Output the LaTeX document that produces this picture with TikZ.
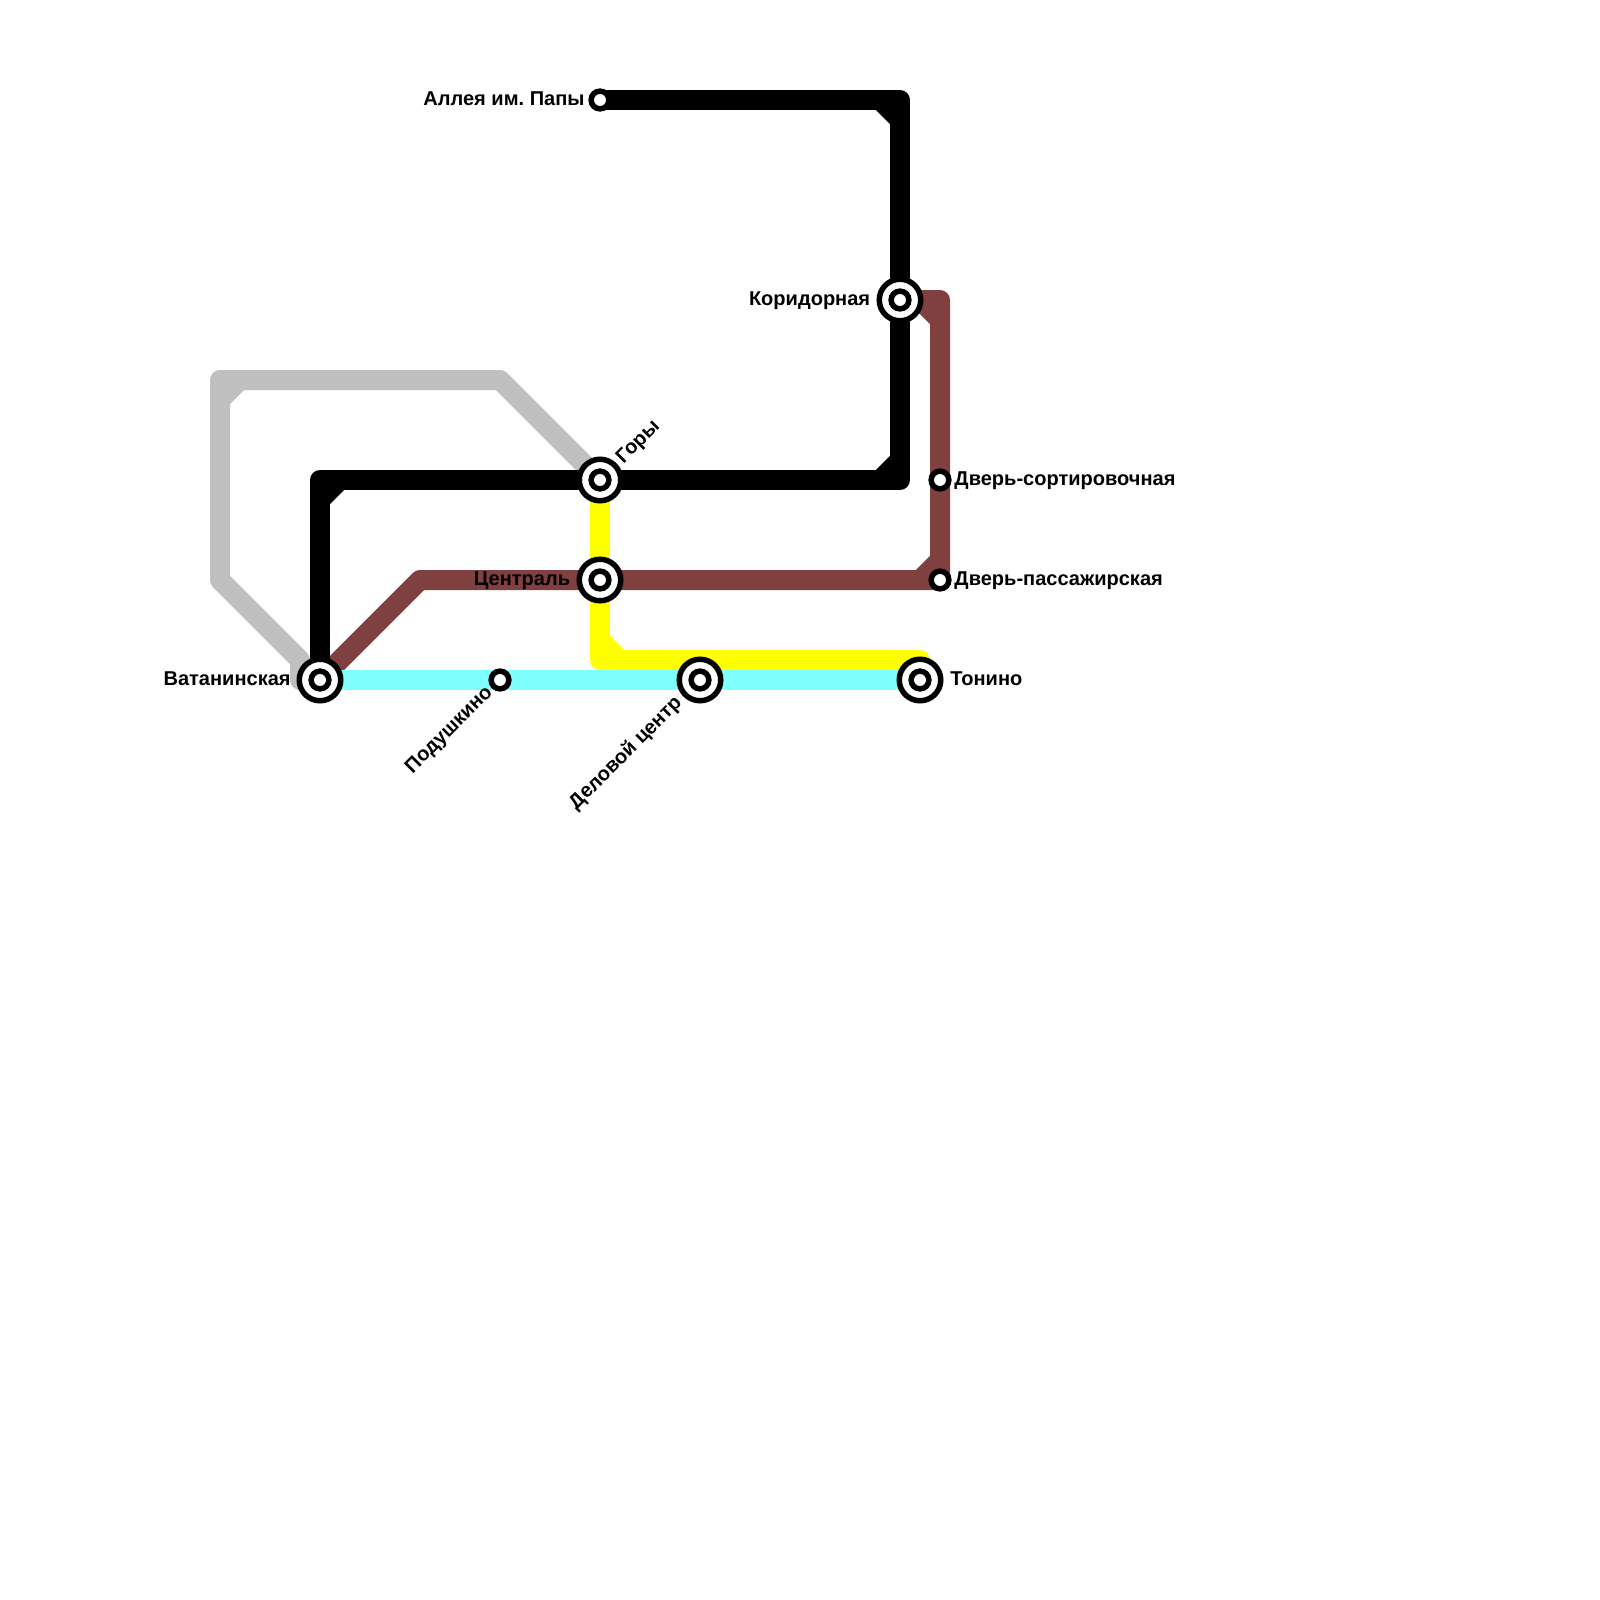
\documentclass[tikz,border=0pt]{standalone}
\usepackage{fontspec}
\setmainfont{Liberation Sans}
\usetikzlibrary{positioning,backgrounds}
\usepackage{xcolor}
\definecolor{greyline}{RGB}{192,192,192}
\definecolor{brownline}{RGB}{128,64,64}
\definecolor{yellowline}{RGB}{255,255,0}
\definecolor{cyanline}{RGB}{128,255,255}
\tikzset{
  metro/.style={line width=0.4cm, line join=round, line cap=round},
  hub/.style={circle, draw=black, fill=white, line width=0.11cm, minimum size=0.83cm, inner sep=0pt},
  stop/.style={circle, draw=black, fill=white, line width=0.11cm, minimum size=0.355cm, inner sep=0pt},
  lbl/.style={font=\fontsize{11.4pt}{13pt}\selectfont\bfseries, inner sep=0pt, text=black}
}

\begin{document}
\begin{tikzpicture}[x=0.4cm, y=-0.4cm]
  \useasboundingbox (0,0) rectangle (80,80);
  % Stations
  \foreach \n/\x/\y in {vatan/16/34, gory/30/24, central/30/29, delovoy/35/34, tonino/46/34, korridor/45/15}{
    \node[hub] (\n) at (\x,\y) {};
    \node[stop] (\n-in) at (\x,\y) {};
  }
  \foreach \n/\x/\y in {papy/30/5, podush/25/34, sort/47/24, pass/47/29}{
    \node[stop] (\n) at (\x,\y) {};
  }
  % Bends
  \coordinate (gtl) at (11,19);
  \coordinate (gtr) at (25,19);
  \coordinate (gbl) at (11,29);
  \coordinate (gdn) at (15,33);
  \coordinate (gft) at (15,34);
  \coordinate (ktr) at (45,5);
  \coordinate (kbr) at (45,24);
  \coordinate (ktl) at (16,24);
  \coordinate (btl) at (21,29);
  \coordinate (btr) at (47,15);
  \coordinate (ybl) at (30,33);
  \coordinate (ybr) at (46,33);
  % Lines
  \begin{scope}[on background layer]
    \draw[metro, greyline] (gory.center) -- (gtr) -- (gtl) -- (gbl) -- (gdn) -- (gft) -- (vatan.center);
    \draw[metro, greyline] (gtl) ++(0,1) -- ++(1,-1);
    \draw[metro, yellowline] (gory.center) -- (ybl) -- (ybr) -- (tonino.center);
    \draw[metro, yellowline] (ybl) ++(0,-1) -- ++(1,1);
    \draw[metro, brownline] (vatan.center) -- (btl) -- (pass.center) -- (btr) -- (korridor.center);
    \draw[metro, brownline] (btr) ++(-1,0) -- ++(1,1);
    \draw[metro, brownline] (pass.center) ++(-1,0) -- ++(1,-1);
    \draw[metro, cyanline] (vatan.center) -- (tonino.center);
    \draw[metro, black] (papy.center) -- (ktr) -- (kbr) -- (ktl) -- (vatan.center);
    \draw[metro, black] (ktr) ++(-1,0) -- ++(1,1);
    \draw[metro, black] (kbr) ++(-1,0) -- ++(1,-1);
    \draw[metro, black] (ktl) ++(0,1) -- ++(1,-1);
  \end{scope}
  % Labels
  \node[lbl, left=0.07cm of papy, yshift=0.02cm] (papy-l) {Аллея им.\ Папы};
  \node[lbl, left=0.12cm of korridor, yshift=-0.02cm] (korridor-l) {Коридорная};
  \node[lbl, left=0.12cm of central, yshift=-0.02cm] (central-l) {Централь};
  \node[lbl, left=0.11cm of vatan, yshift=0.02cm] (vatan-l) {Ватанинская};
  \node[lbl, right=0.05cm of sort, yshift=-0.02cm] (sort-l) {Дверь-сортировочная};
  \node[lbl, right=0.05cm of pass, yshift=-0.02cm] (pass-l) {Дверь-пассажирская};
  \node[lbl, right=0.13cm of tonino, yshift=0.02cm] (tonino-l) {Тонино};
  \node[lbl, rotate=45, anchor=west] (gory-l) at ([shift={(1.0,-0.95)}]gory.center) {Горы};
  \node[lbl, rotate=45, anchor=east] (podush-l) at ([shift={(-0.5,0.5)}]podush.center) {Подушкино};
  \node[lbl, rotate=45, anchor=east] (delovoy-l) at ([shift={(-1.05,1.0)}]delovoy.center) {Деловой центр};
\end{tikzpicture}
\end{document}
